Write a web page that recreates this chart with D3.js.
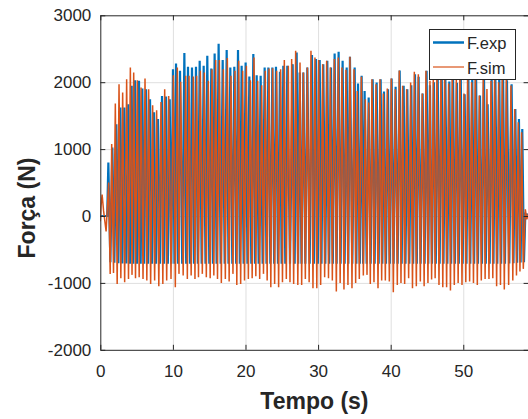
<!DOCTYPE html>
<html><head><meta charset="utf-8">
<script src="https://cdn.jsdelivr.net/npm/d3@7"></script>
<style>
body{margin:0;background:#fff}
svg{display:block;font-family:"Liberation Sans",Arial,Helvetica,sans-serif}
</style>
</head><body>
<svg id="c" width="528" height="419"></svg>
<script>
const xTicks = [0, 10, 20, 30, 40, 50];
const yTicks = [-2000, -1000, 0, 1000, 2000, 3000];
const seriesNames = ["F.exp", "F.sim"];
const xLabel = "Tempo (s)";
const yLabel = "Força (N)";

const expTimes = [
 1.11,1.66,2.21,2.76,3.31,3.86,4.32,4.78,5.33,5.79,
 6.30,6.85,7.40,7.95,8.50,9.05,9.56,10.01,10.43,10.98,
 11.58,12.08,12.63,13.18,13.69,14.24,14.74,15.29,15.75,16.30,
 16.86,17.41,17.91,18.46,18.97,19.47,20.02,20.53,21.08,21.54,
 22.09,22.64,23.15,23.70,24.20,24.75,25.21,25.76,
 26.50,27.05,27.46,27.97,28.52,29.16,29.71,30.22,30.72,31.27,
 31.78,32.28,32.83,33.38,33.94,34.39,35.04,35.50,36.00,36.41,
 36.97,37.52,38.07,38.62,39.08,39.63,40.13,40.68,41.24,41.79,
 42.29,42.84,43.35,43.85,44.40,44.95,45.41,
 45.96,46.47,47.02,47.53,48.08,48.58,49.13,49.64,50.19,50.69,
 51.24,51.75,52.30,52.85,53.36,53.91,54.41,54.96,55.47,56.02,
 56.66,57.17,57.67,58.13
];
// time of each simulated force peak (s)
const simTimes = [
 1.15,1.57,2.07,2.58,3.08,3.63,4.14,4.60,5.10,5.61,
 6.16,6.66,7.21,7.76,8.36,8.87,9.42,10.06,10.61,11.07,
 11.76,12.22,12.81,13.27,13.78,14.33,14.88,15.39,15.89,16.40,
 16.95,17.50,18.00,18.55,19.06,19.61,20.12,20.67,21.17,21.68,
 22.23,22.73,23.24,23.74,24.29,24.84,25.35,25.90,
 26.36,26.91,27.51,27.97,28.52,29.02,29.57,30.08,30.63,31.18,
 31.69,32.24,32.79,33.29,33.84,34.39,34.95,35.40,35.96,36.51,
 36.97,37.42,37.98,38.53,38.99,39.54,40.09,40.64,41.19,41.65,
 42.20,42.75,43.26,43.81,44.36,44.86,45.41,
 45.87,46.38,46.93,47.43,47.98,48.49,49.04,49.55,50.10,50.60,
 51.15,51.66,52.21,52.76,53.26,53.82,54.32,54.87,55.38,55.93,
 56.57,57.08,57.58,58.04
];
const expPeaks = [
 800,1025,1370,1620,1620,1670,1945,2030,2020,1905,
 1895,1745,1550,1450,1795,1785,1745,2195,2280,2170,
 2435,2230,2220,2230,2320,2245,2395,2205,2430,2575,
 2330,2480,2220,2230,2480,2245,2295,2085,2420,2105,
 2095,2220,2220,2220,2230,2155,2245,2245,
 2270,2445,2145,2145,2220,2405,2345,2330,2270,2320,
 2220,2430,2455,2320,2220,2380,2220,1980,2095,1870,
 1770,2045,1995,2045,1860,1895,2055,1930,2175,1945,
 1895,1955,2120,2080,1830,2170,1955,
 2000,2150,2250,2100,2010,2200,1990,2250,1820,2200,
 2050,2250,1800,2150,1670,2050,2200,2100,2250,2030,
 1970,1600,1450,1300
];
const simPeaks = [
 500,1075,1680,1970,1845,2045,2220,2145,2030,1920,
 2055,1895,1655,1580,1705,1895,1795,2105,2220,2005,
 2095,2095,2085,2095,2170,2145,2020,2195,2330,2330,
 2195,2360,2095,2170,2320,2170,2245,2030,2370,2020,
 1955,2170,2205,2210,2170,2195,2330,2245,
 2345,2470,2295,2145,2220,2470,2370,2330,2270,2320,
 2220,2345,2370,2220,2185,2380,2195,1870,2080,1745,
 1695,2045,1970,2045,1830,1905,2055,1895,2175,1945,
 1895,1995,2155,2120,1830,2170,2020,
 2100,2200,2200,2150,1980,2150,2050,2200,1830,2150,
 2000,2200,1800,2100,1900,2020,2150,2000,2200,2100,
 1950,1600,1400,1250
];
const expTroughs = [
 -690,-700,-705,-710,-710,-715,-715,-715,-715,-715,
 -715,-715,-715,-715,-715,-715,-715,-715,-715,-715,
 -715,-715,-715,-715,-715,-715,-715,-715,-715,-715,
 -715,-715,-715,-715,-715,-715,-715,-715,-715,-715,
 -715,-715,-715,-715,-715,-715,-715,-715,-715,-715,
 -715,-715,-715,-715,-715,-715,-715,-715,-715,-715,
 -715,-715,-715,-715,-715,-715,-715,-715,-715,-715,
 -715,-715,-715,-715,-715,-715,-715,-715,-715,-715,
 -715,-715,-715,-715,-715,-715,-715,-715,-715,-715,
 -715,-715,-715,-715,-715,-715,-715,-715,-715,-715,
 -715,-715,-715,-715,-710,-705,-700,-695,-690
];
const simTroughs = [
 -866,-851,-1015,-930,-990,-940,-880,-930,-915,-940,
 -965,-1015,-965,-1050,-1015,-965,-940,-1065,-865,-890,
 -940,-890,-940,-915,-865,-915,-930,-890,-940,-1000,
 -940,-980,-865,-1030,-1015,-965,-940,-930,-900,-940,
 -865,-965,-1065,-1015,-1065,-990,-940,
 -990,-1015,-1030,-1030,-940,-990,-1080,-1080,-1030,-915,
 -930,-965,-1130,-1000,-1100,-1030,-1080,-1000,-940,-890,
 -880,-1015,-990,-1080,-965,-965,-980,-1140,-1030,-1000,
 -1015,-930,-1080,-1050,-980,-1050,-1000,-950,-930,-1030,
 -1065,-1065,-1115,-1030,-1000,-1030,-990,-980,-1000,-1030,
 -965,-940,-940,-930,-1050,-1030,-1100,-1030,-965,-890,
 -830,-790
];
// start (before oscillation) and end of each record
const expHeadT = [0, 0.95];
const expHeadV = [0, 0];
const simHeadT = [0, 0.10, 0.25, 0.45, 0.80];
const simHeadV = [-80, 150, 320, 80, -230];
const tailT = [58.55, 58.75, 59.0];
const expTailV = [30, 20, 20];
const simTailV = [100, -50, 40];

const colors = ["#0072BD", "#D95319"];
const axisColor = "#262626";

function buildSeries(headT, headV, times, peaks, troughs, tailV) {
  const pts = headT.map((t, i) => [t, headV[i]]);
  const n = times.length;
  for (let i = 0; i < n; i++) {
    pts.push([times[i], peaks[i]]);
    const tt = i < n - 1 ? (times[i] + times[i + 1]) / 2
                         : times[i] + (times[i] - times[i - 1]) / 2;
    pts.push([tt, troughs[i]]);
  }
  tailT.forEach((t, i) => pts.push([t, tailV[i]]));
  return pts;
}
const expSeries = buildSeries(expHeadT, expHeadV, expTimes, expPeaks, expTroughs, expTailV);
const simSeries = buildSeries(simHeadT, simHeadV, simTimes, simPeaks, simTroughs, simTailV);

const svg = d3.select("#c");
const x = d3.scaleLinear().domain([0, 59]).range([100.3, 528.6]);
const y = d3.scaleLinear().domain([-2000, 3000]).range([349.8, 15.3]);
const fmt = d => String(d);

// grid
const grid = svg.append("g").attr("stroke", "#dfdfdf").attr("stroke-width", 1);
grid.selectAll(".gx").data(xTicks.filter(d => d > 0)).join("line")
  .attr("x1", d => x(d) + 0.5).attr("x2", d => x(d) + 0.5)
  .attr("y1", y(-2000)).attr("y2", y(3000));
grid.selectAll(".gy").data(yTicks.filter(d => d > -2000 && d < 3000)).join("line")
  .attr("y1", d => y(d) + 0.5).attr("y2", d => y(d) + 0.5)
  .attr("x1", x(0)).attr("x2", x(59));

// data
svg.append("clipPath").attr("id", "clip").append("rect")
  .attr("x", x(0)).attr("y", y(3000))
  .attr("width", x(59) - x(0)).attr("height", y(-2000) - y(3000));
const line = d3.line().x(d => x(d[0])).y(d => y(d[1]));
const plot = svg.append("g").attr("clip-path", "url(#clip)");
plot.append("path").datum(expSeries).attr("d", line)
  .attr("fill", "none").attr("stroke", colors[0]).attr("stroke-width", 2.2);
plot.append("path").datum(simSeries).attr("d", line)
  .attr("fill", "none").attr("stroke", colors[1]).attr("stroke-width", 1.5);

// axes
function styleAxis(g) {
  g.selectAll(".domain").attr("stroke", axisColor);
  g.selectAll(".tick line").attr("stroke", axisColor);
  g.selectAll(".tick text").attr("fill", axisColor).attr("font-size", 17)
    .attr("font-family", '"Liberation Sans",Arial,sans-serif');
}
svg.append("g").attr("transform", `translate(0,${y(-2000)})`)
  .call(d3.axisBottom(x).tickValues(xTicks).tickFormat(fmt).tickSize(-5).tickSizeOuter(0).tickPadding(15))
  .call(styleAxis);
svg.append("g").attr("transform", `translate(${x(0)},0)`)
  .call(d3.axisLeft(y).tickValues(yTicks).tickFormat(fmt).tickSize(-5).tickSizeOuter(0).tickPadding(9))
  .call(styleAxis);
svg.append("g").attr("transform", `translate(0,${y(3000)})`)
  .call(d3.axisTop(x).tickValues(xTicks).tickSize(-5).tickSizeOuter(0).tickFormat(""))
  .call(styleAxis);
svg.append("g").attr("transform", `translate(${x(59)},0)`)
  .call(d3.axisRight(y).tickValues(yTicks).tickSize(-5).tickSizeOuter(0).tickFormat(""))
  .call(styleAxis);

// axis labels
svg.append("text").attr("x", (x(0) + x(59)) / 2).attr("y", 409)
  .attr("text-anchor", "middle").attr("font-weight", "bold").attr("font-size", 23)
  .attr("fill", axisColor).text(xLabel);
svg.append("text").attr("transform", "translate(35,208) rotate(-90)")
  .attr("text-anchor", "middle").attr("font-weight", "bold").attr("font-size", 23)
  .attr("fill", axisColor).text(yLabel);

// legend
const lg = svg.append("g");
lg.append("rect").attr("x", 429.5).attr("y", 29.5).attr("width", 86).attr("height", 50)
  .attr("fill", "#fff").attr("stroke", axisColor).attr("stroke-width", 1);
const rowsY = [42.5, 67];
seriesNames.forEach((name, i) => {
  lg.append("line").attr("x1", 433).attr("x2", 464).attr("y1", rowsY[i]).attr("y2", rowsY[i])
    .attr("stroke", colors[i]).attr("stroke-width", i === 0 ? 2.5 : 1.2);
  lg.append("text").attr("x", 467).attr("y", rowsY[i] + 6.5)
    .attr("font-size", 16.5).attr("fill", axisColor).text(name);
});
</script>
</body></html>
